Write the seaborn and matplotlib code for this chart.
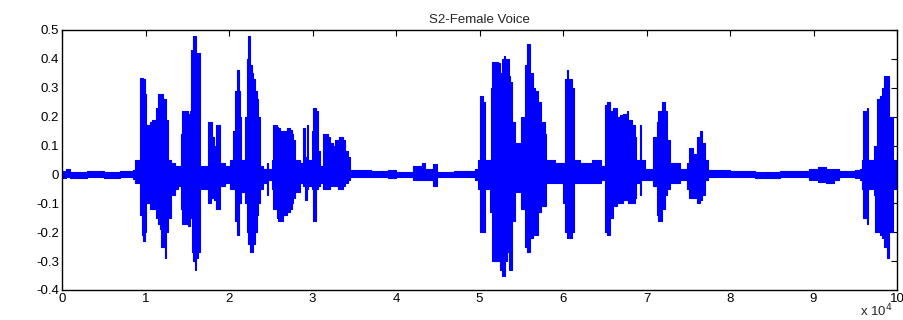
import numpy as np
import pandas as pd
import matplotlib
matplotlib.use("Agg")
import matplotlib.pyplot as plt
import seaborn as sns

# envelope of the waveform (x in units of 1e4 samples)
t = [0.00, 0.05, 0.10, 0.30, 0.50, 0.70, 0.85, 0.87, 0.93, 0.96, 0.97, 0.99, 1.00, 1.05, 1.08,
     1.13, 1.15, 1.17, 1.19, 1.21, 1.23, 1.25, 1.27, 1.31, 1.35, 1.39, 1.42, 1.44, 1.51, 1.53,
     1.54, 1.56, 1.57, 1.59, 1.61, 1.63, 1.65, 1.75, 1.78, 1.80, 1.82, 1.84, 1.87, 1.89, 1.95,
     2.01, 2.05, 2.07, 2.10, 2.12, 2.13, 2.14, 2.19, 2.21, 2.23, 2.25, 2.27, 2.29, 2.31, 2.33,
     2.35, 2.37, 2.41, 2.45, 2.47, 2.51, 2.53, 2.57, 2.59, 2.61, 2.65, 2.69, 2.73, 2.75, 2.77,
     2.79, 2.85, 2.89, 2.91, 2.93, 2.95, 2.99, 3.01, 3.04, 3.07, 3.09, 3.13, 3.19, 3.21, 3.25,
     3.27, 3.30, 3.32, 3.37, 3.39, 3.43, 3.45, 3.70, 3.90, 4.00, 4.20, 4.31, 4.35, 4.44, 4.49,
     4.70, 4.95, 4.98, 5.01, 5.04, 5.06, 5.12, 5.14, 5.15, 5.22, 5.24, 5.27, 5.29, 5.31, 5.33,
     5.35, 5.37, 5.39, 5.42, 5.46, 5.50, 5.54, 5.57, 5.60, 5.64, 5.67, 5.70, 5.74, 5.78, 5.80,
     5.90, 6.00, 6.02, 6.05, 6.06, 6.11, 6.13, 6.20, 6.35, 6.45, 6.50, 6.53, 6.56, 6.60, 6.65,
     6.68, 6.72, 6.77, 6.78, 6.83, 6.86, 6.88, 6.92, 6.94, 6.98, 7.08, 7.12, 7.14, 7.19, 7.22,
     7.25, 7.28, 7.40, 7.48, 7.51, 7.56, 7.60, 7.64, 7.66, 7.70, 7.74, 8.00, 8.30, 8.60, 8.95,
     9.05, 9.15, 9.25, 9.30, 9.50, 9.56, 9.58, 9.59, 9.64, 9.65, 9.72, 9.74, 9.76, 9.80, 9.82,
     9.84, 9.85, 9.88, 9.89, 9.90, 9.91, 9.95, 10.00]
upper = [0.012, 0.018, 0.010, 0.012, 0.010, 0.012, 0.015, 0.05, 0.335, 0.335, 0.33, 0.28, 0.17, 0.18, 0.19,
         0.23, 0.28, 0.27, 0.28, 0.26, 0.26, 0.19, 0.05, 0.04, 0.03, 0.03, 0.14, 0.22, 0.21, 0.22,
         0.43, 0.43, 0.48, 0.48, 0.42, 0.42, 0.03, 0.18, 0.18, 0.13, 0.10, 0.17, 0.17, 0.04, 0.03,
         0.05, 0.15, 0.29, 0.36, 0.29, 0.20, 0.05, 0.20, 0.40, 0.48, 0.38, 0.35, 0.33, 0.29, 0.26,
         0.20, 0.03, 0.02, 0.04, 0.02, 0.05, 0.17, 0.165, 0.16, 0.15, 0.15, 0.16, 0.155, 0.14, 0.12,
         0.05, 0.04, 0.16, 0.06, 0.17, 0.05, 0.15, 0.23, 0.22, 0.08, 0.03, 0.14, 0.13, 0.11, 0.10,
         0.12, 0.08, 0.13, 0.12, 0.08, 0.06, 0.015, 0.012, 0.015, 0.010, 0.03, 0.04, 0.02, 0.035, 0.01,
         0.012, 0.02, 0.05, 0.27, 0.25, 0.05, 0.05, 0.30, 0.39, 0.385, 0.35, 0.40, 0.41, 0.40, 0.40,
         0.34, 0.32, 0.18, 0.11, 0.11, 0.20, 0.38, 0.45, 0.35, 0.30, 0.29, 0.25, 0.18, 0.14, 0.05,
         0.04, 0.04, 0.33, 0.36, 0.33, 0.30, 0.05, 0.04, 0.05, 0.03, 0.24, 0.25, 0.22, 0.23, 0.20,
         0.205, 0.21, 0.22, 0.19, 0.17, 0.13, 0.05, 0.17, 0.05, 0.02, 0.13, 0.18, 0.22, 0.25, 0.22,
         0.12, 0.04, 0.02, 0.04, 0.09, 0.07, 0.13, 0.15, 0.11, 0.05, 0.015, 0.012, 0.010, 0.012, 0.02,
         0.025, 0.02, 0.02, 0.012, 0.015, 0.02, 0.05, 0.22, 0.23, 0.05, 0.10, 0.10, 0.26, 0.27, 0.30,
         0.32, 0.34, 0.34, 0.34, 0.34, 0.20, 0.05, 0.03]
lower = [-0.012, -0.010, -0.012, -0.010, -0.012, -0.010, -0.015, -0.03, -0.14, -0.21, -0.23, -0.20, -0.10, -0.12, -0.12,
         -0.15, -0.17, -0.19, -0.25, -0.25, -0.29, -0.20, -0.15, -0.07, -0.05, -0.04, -0.12, -0.17, -0.18, -0.15,
         -0.15, -0.27, -0.30, -0.33, -0.29, -0.27, -0.05, -0.10, -0.08, -0.08, -0.09, -0.12, -0.12, -0.04, -0.03,
         -0.05, -0.05, -0.16, -0.21, -0.10, -0.10, -0.06, -0.10, -0.20, -0.24, -0.27, -0.27, -0.24, -0.20, -0.14,
         -0.10, -0.05, -0.03, -0.07, -0.02, -0.05, -0.12, -0.15, -0.16, -0.16, -0.14, -0.13, -0.12, -0.10, -0.08,
         -0.06, -0.03, -0.04, -0.09, -0.05, -0.04, -0.05, -0.16, -0.05, -0.04, -0.03, -0.05, -0.05, -0.04, -0.04,
         -0.04, -0.05, -0.05, -0.04, -0.03, -0.02, -0.01, -0.010, -0.012, -0.010, -0.02, -0.02, -0.02, -0.04, -0.01,
         -0.01, -0.02, -0.05, -0.20, -0.20, -0.05, -0.13, -0.13, -0.30, -0.30, -0.33, -0.35, -0.35, -0.30, -0.27,
         -0.33, -0.33, -0.16, -0.06, -0.06, -0.12, -0.25, -0.27, -0.22, -0.21, -0.21, -0.13, -0.11, -0.11, -0.03,
         -0.03, -0.10, -0.20, -0.22, -0.22, -0.20, -0.03, -0.03, -0.03, -0.02, -0.20, -0.21, -0.15, -0.11, -0.10,
         -0.10, -0.09, -0.09, -0.10, -0.10, -0.08, -0.03, -0.07, -0.02, -0.02, -0.04, -0.14, -0.16, -0.12, -0.07,
         -0.05, -0.03, -0.02, -0.05, -0.08, -0.08, -0.10, -0.09, -0.07, -0.02, -0.01, -0.010, -0.012, -0.010, -0.02,
         -0.025, -0.03, -0.02, -0.01, -0.012, -0.02, -0.05, -0.15, -0.17, -0.05, -0.07, -0.20, -0.20, -0.21, -0.22,
         -0.23, -0.25, -0.29, -0.29, -0.20, -0.20, -0.05, -0.03]

x_ticks = list(range(0, 11))
y_ticks = [-0.4, -0.3, -0.2, -0.1, 0, 0.1, 0.2, 0.3, 0.4, 0.5]
y_labels = ["-0.4", "-0.3", "-0.2", "-0.1", "0", "0.1", "0.2", "0.3", "0.4", "0.5"]

sns.set_style("white")
plt.rcParams["font.family"] = ["Liberation Sans", "DejaVu Sans"]

df = pd.DataFrame({"t": t, "upper": upper, "lower": lower})

fig = plt.figure(figsize=(9.04, 3.2), dpi=100)
ax = fig.add_axes([62 / 904, 1 - 290 / 320, (897 - 62) / 904, 260 / 320])

ax.fill_between(df["t"], df["lower"], df["upper"], step="post", color="#0000ff", lw=0)
sns.lineplot(data=df, x="t", y="upper", ax=ax, color="#0000ff", lw=0.8, drawstyle="steps-post")
sns.lineplot(data=df, x="t", y="lower", ax=ax, color="#0000ff", lw=0.8, drawstyle="steps-post")

ax.set_xlim(0, 10)
ax.set_ylim(-0.4, 0.5)
ax.set_xticks(x_ticks)
ax.set_xticklabels([str(v) for v in x_ticks])
ax.set_yticks(y_ticks)
ax.set_yticklabels(y_labels)
ax.set_xlabel("")
ax.set_ylabel("")
ax.tick_params(direction="in", length=4, width=0.8, top=True, right=True,
               labelsize=9.5, colors="black", pad=2)
for s in ax.spines.values():
    s.set_visible(True)
    s.set_color("black")
    s.set_linewidth(1.0)

ax.set_title("S2-Female Voice", fontsize=9.5, pad=5)
fig.text(893 / 904, 1 / 320, r"x 10$^{4}$", ha="right", va="bottom", fontsize=9.5)

fig.savefig("out.png", dpi=100)
